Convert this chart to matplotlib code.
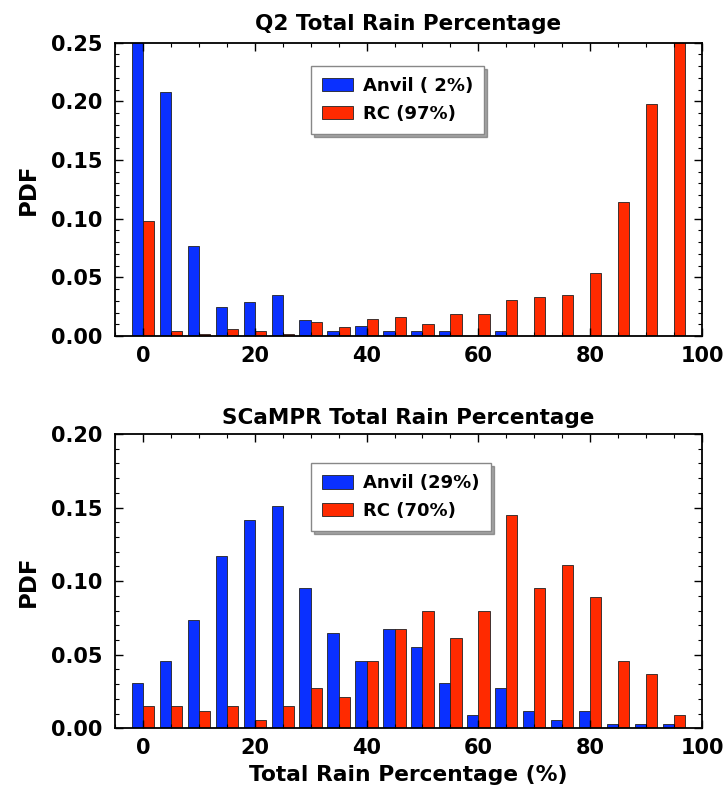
import numpy as np
import matplotlib
matplotlib.use("Agg")
import matplotlib.pyplot as plt
from matplotlib.ticker import MultipleLocator

# bin starts (5 % bins)
bins = np.arange(0, 100, 5)

# Q2 panel
q2_anvil = [0.262, 0.208, 0.077, 0.025, 0.029, 0.035, 0.014, 0.004, 0.0085, 0.004,
            0.004, 0.004, 0.0, 0.004, 0.0, 0.0, 0.0, 0.0, 0.0, 0.0]
q2_rc = [0.098, 0.004, 0.002, 0.006, 0.004, 0.002, 0.012, 0.008, 0.0145, 0.0165,
         0.010, 0.0185, 0.0185, 0.031, 0.033, 0.035, 0.054, 0.1145, 0.198, 0.262]

# SCaMPR panel
sc_anvil = [0.0306, 0.046, 0.0738, 0.117, 0.1418, 0.1509, 0.0953, 0.0645, 0.046, 0.0675,
            0.0555, 0.0306, 0.009, 0.0276, 0.012, 0.0059, 0.012, 0.003, 0.003, 0.003]
sc_rc = [0.0152, 0.0152, 0.012, 0.0152, 0.0059, 0.0152, 0.0276, 0.0215, 0.046, 0.0675,
         0.080, 0.0614, 0.080, 0.1447, 0.0953, 0.1108, 0.0892, 0.046, 0.0367, 0.009]

panels = [
    ("Q2 Total Rain Percentage", q2_anvil, q2_rc, "Anvil ( 2%)", "RC (97%)", 0.25),
    ("SCaMPR Total Rain Percentage", sc_anvil, sc_rc, "Anvil (29%)", "RC (70%)", 0.20),
]

blue = "#0a30ff"
red = "#ff2a00"

plt.rcParams['font.family'] = ['DejaVu Sans']
plt.rcParams['font.weight'] = 'bold'

fig = plt.figure(figsize=(7.26, 7.88), dpi=100)
ax_rects = [[0.1584, 0.5736, 0.8085, 0.3722],
            [0.1584, 0.0758, 0.8085, 0.3735]]
leg_y = [0.92, 0.90]

for i, (title, anv, rc, lab_a, lab_r, ytop) in enumerate(panels):
    ax = fig.add_axes(ax_rects[i])
    ax.bar(bins - 1, anv, width=2, color=blue, edgecolor="#222222", linewidth=0.6, label=lab_a)
    ax.bar(bins + 1, rc, width=2, color=red, edgecolor="#222222", linewidth=0.6, label=lab_r)
    ax.set_xlim(-5, 100)
    ax.set_ylim(0, ytop)
    ax.xaxis.set_major_locator(MultipleLocator(20))
    ax.xaxis.set_minor_locator(MultipleLocator(5))
    ax.yaxis.set_major_locator(MultipleLocator(0.05))
    ax.yaxis.set_minor_locator(MultipleLocator(0.01))
    ax.yaxis.set_major_formatter(matplotlib.ticker.FormatStrFormatter("%.2f"))
    ax.tick_params(which="both", direction="in", top=True, right=True, labelsize=15)
    ax.tick_params(which="major", length=6, width=1)
    ax.tick_params(which="minor", length=3, width=0.8)
    ax.tick_params(axis="x", pad=7)
    ax.tick_params(axis="y", pad=9)
    for sp in ax.spines.values():
        sp.set_linewidth(1.3)
    ax.set_title(title, fontsize=15.5, fontweight="bold", pad=9 if i == 0 else 7.5)
    ax.set_ylabel("PDF", fontsize=16.5, fontweight="bold", labelpad=8)
    if i == 1:
        ax.set_xlabel("Total Rain Percentage (%)", fontsize=15.7, fontweight="bold", labelpad=5)
    leg = ax.legend(loc="upper left", bbox_to_anchor=(0.334, leg_y[i]), fontsize=13,
                    shadow=True, fancybox=False, framealpha=1, edgecolor="#888888",
                    borderaxespad=0, handlelength=1.75, handleheight=0.75, borderpad=0.6,
                    labelspacing=0.55, handletextpad=0.55)
    leg.get_frame().set_linewidth(1.0)

fig.savefig("out.png", dpi=100)
